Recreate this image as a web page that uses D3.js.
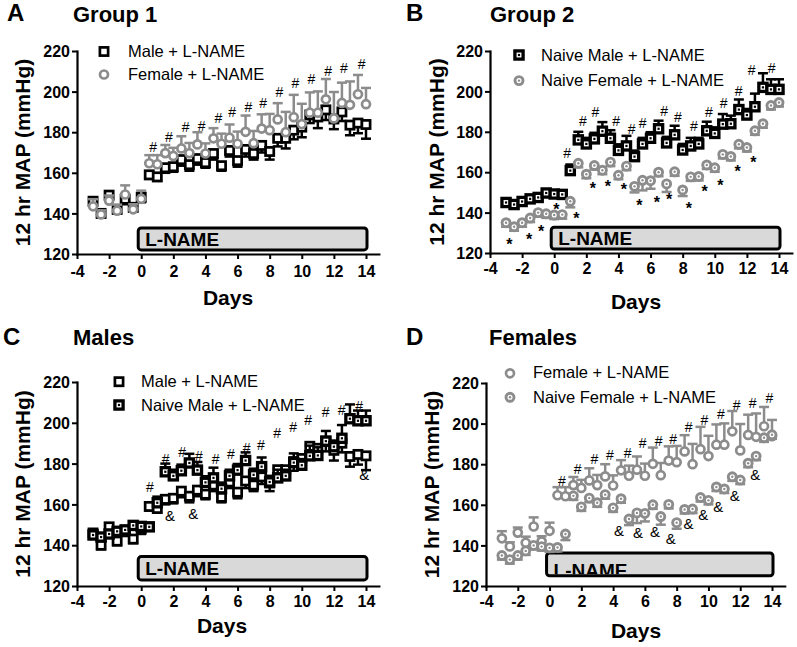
<!DOCTYPE html>
<html><head><meta charset="utf-8">
<script src="https://cdn.jsdelivr.net/npm/d3@7"></script>
<style>
body{margin:0;background:#fff}
svg{display:block}
text{font-family:Arial,"Liberation Sans",Helvetica,sans-serif}
</style>
</head><body>
<svg id="chart" width="797" height="647"></svg>
<script>
// ---------------- DATA ----------------
const days = [-3,-2.5,-2,-1.5,-1,-0.5,0,0.5,1,1.5,2,2.5,3,3.5,4,4.5,5,5.5,6,6.5,7,7.5,8,8.5,9,9.5,10,10.5,11,11.5,12,12.5,13,13.5,14];

const maleLN = [146,140,149,142,147,143,148, 159,158,162.5,163,166.5,164,167,165,169.5,163.5,171,166,171.5,169.5,173.5,170.5,177,177,181,182.5,188.5,187.5,191,186.5,190,183.5,184.5,183.8];
const maleLNErr = [2.5,2,2,2,2.5,2,2.5, 2,2,2.5,2.5,3,3,3,2.5,3,2.5,3,3,3.5,3,3.5,4,4,5,4.5,5,4,5.5,5,5,4.5,5,5,7];

const femaleLN = [143.5,139.5,146.3,141.3,149.3,142,147.2, 164.7,164.2,169.7,168.3,172,169.7,174,169.5,177,174.3,177.3,174.3,180.2,174.6,181.8,181,186.3,180,187.4,184,189.6,189.6,196.2,186.8,194.4,193.5,198.7,193.8];
const femaleLNErr = [3.5,2,2.5,3,4.5,2.5,4, 4,4.5,4,4,6,5,6,5,5,5,6.5,6,8,6,7,8,8,10,11,10,10,10.5,10,13,10,11.5,9.5,8];

const naiveMale = [145,144,145.5,146.8,147.5,149.7,149.2,149, 160.8,176,174,176.5,180.3,176.8,170.8,173,167.7,174,176.8,181.5,174.5,178.5,171,173,174,180.5,179.2,183.8,184,191,188.3,192.4,202,201,201];
const naiveMaleErr = [1.5,1.5,1.5,1.5,1.5,1.5,1.5,1.5, 3,4,3,3,4.5,4,3,5,3,3,3,4,3,4.5,3,4,3,4.5,3,5,4,5,3,6.5,7,5,5];

const naiveFemale = [135,133,135,137.3,140,139.4,138.8,139, 145.6,164.4,159,163.3,161,165,158.5,163,153,156,155.8,160,154.2,160.2,151.2,157.7,157.9,163.6,162.2,168.8,167.8,173.8,172.2,180.5,184,193,194.5];
const naiveFemaleErr = [2,2,2,2,2,2,2,2, 3,2,2,2,2,2,2,2,3,5,4,2,4,2,3,2,2,2,2,2,2,2,2,2,2,2,2];

const xTicks = [-4,-2,0,2,4,6,8,10,12,14];
const yTicks = [120,140,160,180,200,220];
const lnamePeriod = [0,14];

// significance marks (day, mmHg)
const hashA_x = [0.75,1.72,2.76,3.76,4.8,5.67,6.67,7.6,8.6,9.6,10.6,11.65,12.63,13.73];
const hashA_y = [172.6,177.5,182.7,183,186.8,190.1,192.6,194.2,199.7,204.1,206,210.3,211.5,213.6];
const hashB_x = [0.8,1.79,2.56,3.86,4.82,5.5,6.84,7.71,8.7,9.63,10.56,11.48,12.3,13.54];
const hashB_y = [169.6,185.2,189.6,185.5,181.4,184.4,190.1,187.3,183,189.6,194.2,200,210.6,211.5];
const starB_x = [-2.8,-1.56,-0.82,0.14,1.38,2.41,3.34,4.33,5.3,6.39,7.15,8.39,9.36,10.35,11.42,12.41];
const starB_y = [126,128.5,132.8,143.8,139.2,154,155,153.6,145.5,147,148.6,144.1,152.7,155.6,162.2,167];
const hashC_x = [0.54,1.52,2.55,3.59,4.63,5.59,6.56,7.46,8.47,9.47,10.4,11.48,12.48,13.58];
const hashC_y = [168.4,182.1,185.8,183.7,182.1,184.7,187.5,189.1,194.8,198.1,201.4,205.4,206.3,208.2];
const ampC_x = [1.79,3.24,13.89];
const ampC_y = [154.5,155.6,174.4];
const hashD_x = [0.78,1.77,2.82,3.8,4.92,5.86,6.86,7.78,8.75,9.74,10.78,11.77,12.78,13.83];
const hashD_y = [171.9,177.6,182.4,184.5,185.4,190.6,191.6,192.3,198.2,201.8,204.7,209.2,210.3,212.5];
const ampD_x = [4.37,5.56,6.64,7.63,8.74,9.67,10.62,11.65,12.94];
const ampD_y = [147.5,146.2,146.8,143.5,150.9,155.4,158.9,164.5,175];

// ---------------- STYLE ----------------
const GRAY = '#8c8c8c';
const series = {
  male:        {label:'Male + L-NAME',         values:maleLN,      errs:maleLNErr,      shape:'square', dot:false, color:'#000', dir:-1, sw:2.7},
  female:      {label:'Female + L-NAME',       values:femaleLN,    errs:femaleLNErr,    shape:'circle', dot:false, color:GRAY,   dir: 1, sw:2.7},
  naiveMale:   {label:'Naive Male + L-NAME',   values:naiveMale,   errs:naiveMaleErr,   shape:'square', dot:true,  color:'#000', dir: 1, sw:3.3},
  naiveFemale: {label:'Naive Female + L-NAME', values:naiveFemale, errs:naiveFemaleErr, shape:'circle', dot:true,  color:GRAY,   dir:-1, sw:2.9}
};

const panels = [
  {letter:'A', title:'Group 1', letterPos:[7,21], titlePos:[73,22], x0:77, x14:366, y220:51, y120:254,
   order:['male','female'], barY:[122,132.8], barTextDy:-3.5, xPad:7, yTitleX:30, daysPos:[228,305],
   legend:[['male',104,51.5,128,56.7],['female',104,74.5,128,80]],
   marks:[['#',hashA_x,hashA_y]]},
  {letter:'B', title:'Group 2', letterPos:[406,21], titlePos:[490,22], x0:490, x14:779, y220:51, y120:253,
   order:['naiveMale','naiveFemale'], barY:[122,132.8], barTextDy:-3.5, xPad:5, yTitleX:444, daysPos:[636,309],
   legend:[['naiveMale',519,55,541,60.7],['naiveFemale',519,80.6,541,86.2]],
   marks:[['#',hashB_x,hashB_y],['*',starB_x,starB_y]]},
  {letter:'C', title:'Males', letterPos:[3,345], titlePos:[73,345], x0:77, x14:366, y220:382, y120:586,
   order:['male','naiveMale'], barY:[123,134.4], barTextDy:-5, xPad:5, yTitleX:30, daysPos:[222,633],
   legend:[['male',119,381.7,141,386.7],['naiveMale',119,405,141,410.7]],
   marks:[['#',hashC_x,hashC_y],['&',ampC_x,ampC_y]]},
  {letter:'D', title:'Females', letterPos:[406,345], titlePos:[489,345], x0:486, x14:772, y220:383, y120:586,
   order:['female','naiveFemale'], barY:[125,136.3], barTextDy:1, xPad:5, yTitleX:439, daysPos:[636,638],
   legend:[['female',510,373.3,533,378.3],['naiveFemale',510,397.3,533,402.7]],
   marks:[['#',hashD_x,hashD_y],['&',ampD_x,ampD_y]]}
];

const svg = d3.select('#chart');

function drawMarker(g, cx, cy, s){
  if (s.shape === 'square'){
    const h = 4.1;
    g.append('rect').attr('x',cx-h).attr('y',cy-h).attr('width',2*h).attr('height',2*h)
      .attr('fill','#fff').attr('stroke',s.color).attr('stroke-width',s.sw);
    if (s.dot) g.append('rect').attr('x',cx-1.1).attr('y',cy-1.1).attr('width',2.2).attr('height',2.2).attr('fill',s.color);
  } else {
    g.append('circle').attr('cx',cx).attr('cy',cy).attr('r',4)
      .attr('fill','#fff').attr('stroke',s.color).attr('stroke-width',s.sw);
    if (s.dot) g.append('circle').attr('cx',cx).attr('cy',cy).attr('r',1.2).attr('fill',s.color);
  }
}

const markStyle = {'#':{size:14, weight:'normal', dy:0.36}, '*':{size:16, weight:'bold', dy:0.6}, '&':{size:15, weight:'normal', dy:0.36}};

panels.forEach((p, pi) => {
  const xEnd = p.x0 + (p.x14 - p.x0) * 18.8 / 18;
  const x = d3.scaleLinear().domain([-4, 14.8]).range([p.x0, xEnd]);
  const y = d3.scaleLinear().domain([120, 220]).range([p.y120, p.y220]);
  const g = svg.append('g');

  // titles
  g.append('text').attr('x',p.letterPos[0]).attr('y',p.letterPos[1]).text(p.letter)
    .attr('font-size',24).attr('font-weight','bold');
  g.append('text').attr('x',p.titlePos[0]).attr('y',p.titlePos[1]).text(p.title)
    .attr('font-size',22).attr('font-weight','bold');

  // L-NAME bar
  const bx0 = x(lnamePeriod[0]) - 3, bx1 = x(lnamePeriod[1]) + 1;
  const byTop = y(p.barY[1]), byBot = y(p.barY[0]);
  const clipId = 'clip' + pi;
  svg.append('clipPath').attr('id',clipId).append('rect')
    .attr('x',bx0+1.5).attr('y',byTop+1.5).attr('width',bx1-bx0-3).attr('height',byBot-byTop-3);
  g.append('rect').attr('x',bx0).attr('y',byTop).attr('width',bx1-bx0).attr('height',byBot-byTop)
    .attr('rx',3).attr('fill','#d9d9d9').attr('stroke','#000').attr('stroke-width',3);
  g.append('text').attr('x',bx0+7).attr('y',byBot + p.barTextDy).text('L-NAME')
    .attr('font-size',19).attr('font-weight','bold').attr('clip-path',`url(#${clipId})`);

  // axes
  const xa = g.append('g').attr('transform',`translate(0,${p.y120})`)
    .call(d3.axisBottom(x).tickValues(xTicks).tickSize(5).tickSizeOuter(0).tickPadding(p.xPad).tickFormat(d3.format('d')));
  const ya = g.append('g').attr('transform',`translate(${p.x0},0)`)
    .call(d3.axisLeft(y).tickValues(yTicks).tickSize(5).tickSizeOuter(0).tickPadding(2).tickFormat(d3.format('d')));
  [xa, ya].forEach(a => {
    a.attr('font-family',null).attr('font-size',null);
    a.select('.domain').attr('stroke','#000').attr('stroke-width',2.2).attr('stroke-linecap','square');
    a.selectAll('.tick line').attr('stroke','#000').attr('stroke-width',2);
    a.selectAll('.tick text').attr('font-size',16).attr('font-weight','bold').attr('fill','#000')
      .style('font-family','Arial, "Liberation Sans", Helvetica, sans-serif');
  });
  ya.selectAll('.tick text').text(d => d.toString()).attr('dy','0.36em');
  xa.selectAll('.tick text').text(d => d < 0 ? '-' + Math.abs(d) : d);

  // axis titles
  g.append('text').attr('transform',`translate(${p.yTitleX},${(p.y120+p.y220)/2}) rotate(-90)`)
    .attr('text-anchor','middle').attr('font-size',21).attr('font-weight','bold').text('12 hr MAP (mmHg)');
  g.append('text').attr('x',p.daysPos[0]).attr('y',p.daysPos[1]).attr('text-anchor','middle')
    .attr('font-size',21).attr('font-weight','bold').text('Days');

  // series
  p.order.forEach(key => {
    const s = series[key];
    const sg = g.append('g');
    days.forEach((d, i) => {
      const cx = x(d), v = s.values[i], e = s.errs[i];
      const cy = y(v), ey = y(v + s.dir * e);
      sg.append('line').attr('x1',cx).attr('x2',cx).attr('y1',cy).attr('y2',ey)
        .attr('stroke',s.color).attr('stroke-width',2.5);
      sg.append('line').attr('x1',cx-5).attr('x2',cx+5).attr('y1',ey).attr('y2',ey)
        .attr('stroke',s.color).attr('stroke-width',2.5);
    });
    days.forEach((d, i) => drawMarker(sg, x(d), y(s.values[i]), s));
  });

  // significance marks
  p.marks.forEach(([glyph, xs, ys]) => {
    const ms = markStyle[glyph];
    xs.forEach((d, i) => {
      g.append('text').attr('x',x(d)).attr('y',y(ys[i]) + ms.size*ms.dy)
        .attr('text-anchor','middle').attr('font-size',ms.size).attr('font-weight',ms.weight)
        .attr('fill','#000').text(glyph);
    });
  });

  // legend
  p.legend.forEach(([key, mx, my, tx, ty]) => {
    const s = series[key];
    drawMarker(g, mx, my, s);
    g.append('text').attr('x',tx).attr('y',ty).attr('font-size',16.5).attr('fill','#000').text(s.label);
  });
});
</script>
</body></html>
